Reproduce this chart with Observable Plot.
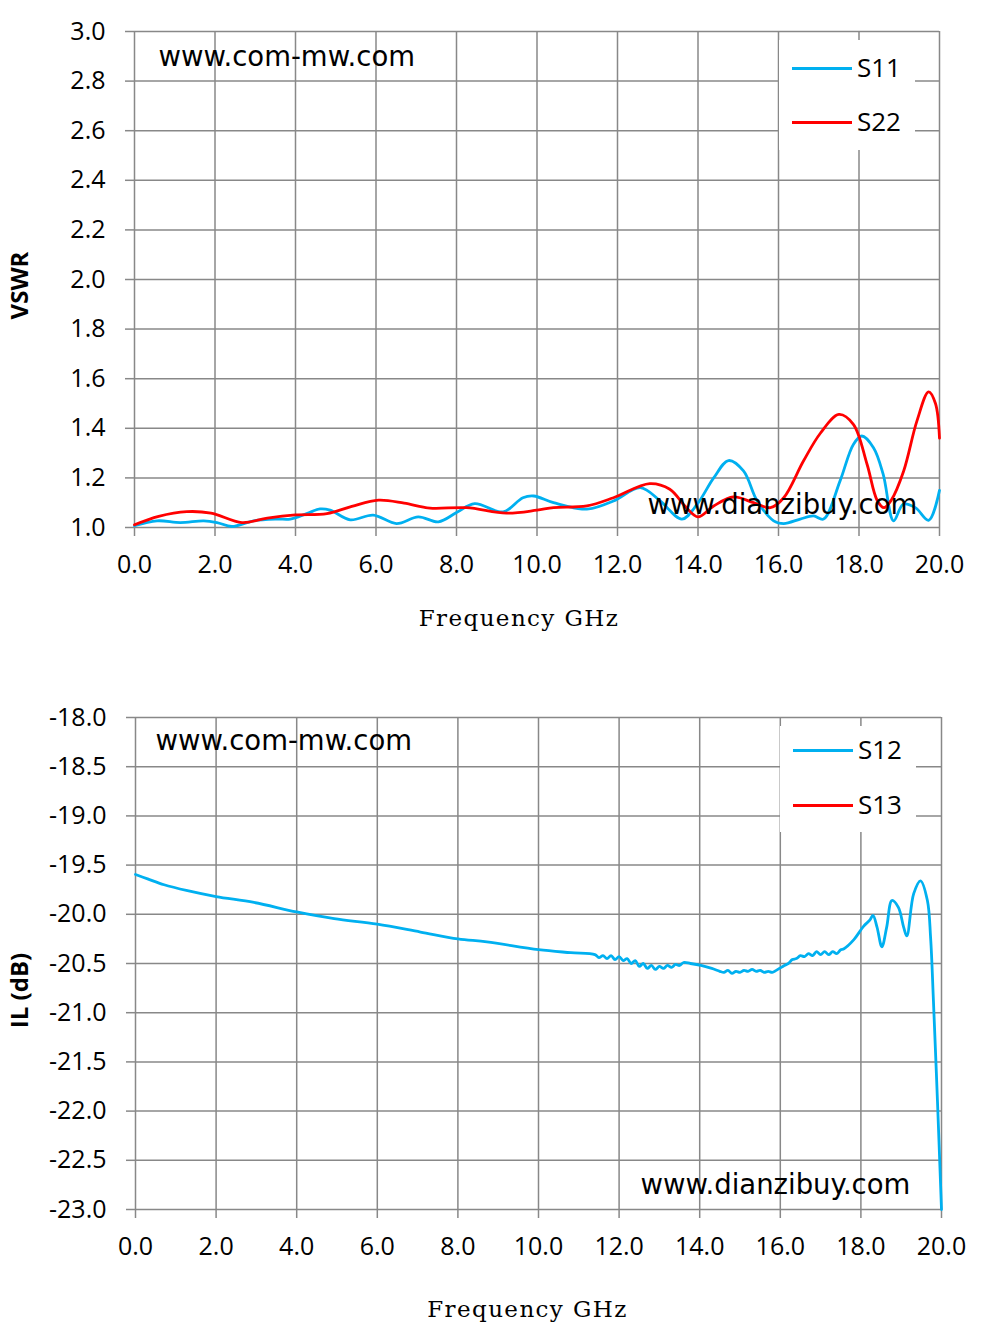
<!DOCTYPE html>
<html>
<head>
<meta charset="utf-8">
<script src="https://cdn.jsdelivr.net/npm/d3@7"></script>
<script src="https://cdn.jsdelivr.net/npm/@observablehq/plot@0.6"></script>
<style>
  html, body { margin: 0; padding: 0; background: #fff; }
  #wrap { position: relative; width: 981px; height: 1335px; overflow: hidden; }
  .panel { position: absolute; left: 0; }
  .legend { position: absolute; background: #fff; font-family: "Open Sans", sans-serif; font-size: 26px; color: #000; }
  .legend .sw { position: absolute; height: 3px; }
  .legend .lb { position: absolute; line-height: 30px; }
</style>
</head>
<body>
<div id="wrap"></div>
<script>
// ---------- data ----------
const xTicks = [0, 2, 4, 6, 8, 10, 12, 14, 16, 18, 20];
const vswrTicks = [1.0, 1.2, 1.4, 1.6, 1.8, 2.0, 2.2, 2.4, 2.6, 2.8, 3.0];
const ilTicks = [-23.0, -22.5, -22.0, -21.5, -21.0, -20.5, -20.0, -19.5, -19.0, -18.5, -18.0];

const s11Freq = [0, 0.56, 1.14, 1.72, 2.05, 2.42, 2.96, 3.54, 3.87, 4.28, 4.61, 4.86, 5.36, 5.93, 6.51, 7.05, 7.55, 8.0, 8.45, 9.16, 9.65, 9.92, 10.41, 11.24, 11.9, 12.57, 13.06, 13.6, 13.98, 14.39, 14.76, 15.13, 15.47, 15.88, 16.13, 16.54, 16.87, 17.12, 17.53, 17.86, 18.07, 18.36, 18.6, 18.86, 19.1, 19.4, 19.73, 20.0];
const s11Vswr = [1.007, 1.027, 1.02, 1.027, 1.02, 1.004, 1.027, 1.034, 1.034, 1.056, 1.075, 1.07, 1.031, 1.05, 1.016, 1.043, 1.023, 1.06, 1.096, 1.063, 1.12, 1.127, 1.10, 1.074, 1.107, 1.161, 1.107, 1.034, 1.094, 1.2, 1.27, 1.228, 1.107, 1.027, 1.016, 1.034, 1.047, 1.034, 1.188, 1.335, 1.369, 1.322, 1.215, 1.027, 1.094, 1.08, 1.029, 1.15];

const s22Freq = [0, 0.6, 1.3, 1.9, 2.67, 3.3, 4.0, 4.78, 5.4, 6.06, 6.7, 7.34, 8.25, 9.24, 10.0, 10.41, 11.24, 11.9, 12.8, 13.3, 13.71, 14.0, 14.39, 14.88, 15.38, 15.8, 16.13, 16.62, 17.04, 17.5, 17.86, 18.2, 18.45, 18.62, 18.8, 19.11, 19.44, 19.73, 19.9, 20.0];
const s22Vswr = [1.011, 1.045, 1.064, 1.058, 1.02, 1.038, 1.051, 1.056, 1.085, 1.11, 1.098, 1.078, 1.08, 1.058, 1.07, 1.08, 1.087, 1.12, 1.177, 1.154, 1.08, 1.043, 1.087, 1.123, 1.10, 1.08, 1.12, 1.268, 1.38, 1.456, 1.416, 1.255, 1.11, 1.08, 1.11, 1.228, 1.43, 1.547, 1.5, 1.36];

const s12Freq = [0, 0.3, 0.71, 1.29, 2.0, 2.94, 4.0, 4.93, 6.0, 7.07, 8.0, 8.72, 10.0, 10.8,
  11.4, 11.5, 11.6, 11.7, 11.8, 11.9, 12.0, 12.1, 12.2, 12.3, 12.4, 12.5, 12.6, 12.7, 12.8, 12.9, 13.0, 13.1, 13.2, 13.3, 13.4, 13.5, 13.6, 13.77, 14.03, 14.3, 14.5,
  14.6, 14.7, 14.8, 14.9, 15.0, 15.1, 15.2, 15.3, 15.4, 15.5, 15.6, 15.7, 15.8, 15.9, 16.1,
  16.2, 16.3, 16.4, 16.5, 16.6, 16.7, 16.8, 16.9, 17.0, 17.1, 17.2, 17.3, 17.4, 17.5, 17.58, 17.82, 18.07, 18.22, 18.3, 18.4, 18.52, 18.64, 18.77, 18.93, 19.06, 19.14, 19.31, 19.48, 19.65, 19.73, 19.8, 19.9, 20.0];
const s12Il = [-19.595, -19.64, -19.70, -19.76, -19.82, -19.88, -19.976, -20.044, -20.10, -20.18, -20.25, -20.28, -20.36, -20.39,
  -20.41, -20.44, -20.42, -20.45, -20.42, -20.46, -20.43, -20.47, -20.45, -20.50, -20.47, -20.53, -20.50, -20.55, -20.52, -20.56, -20.53, -20.55, -20.52, -20.54, -20.51, -20.52, -20.49, -20.50, -20.52, -20.55, -20.58,
  -20.59, -20.57, -20.60, -20.58, -20.59, -20.57, -20.58, -20.56, -20.58, -20.57, -20.59, -20.58, -20.59, -20.57, -20.52,
  -20.50, -20.46, -20.45, -20.42, -20.43, -20.40, -20.42, -20.38, -20.41, -20.38, -20.41, -20.38, -20.40, -20.36, -20.35, -20.26, -20.12, -20.06, -20.01, -20.13, -20.33, -20.13, -19.86, -19.93, -20.13, -20.22, -19.79, -19.66, -19.86, -20.24, -20.88, -21.9, -23.0];

const topSeries = ["S11", "S22"];
const bottomSeries = ["S12", "S13"];
const seriesColors = ["#00b0f0", "#ff0000"];

// ---------- helpers ----------
const gridColor = "#888888";
const tickFont = "'Open Sans', sans-serif";
const wmFont = "'DejaVu Sans', sans-serif";
const xLabelFont = "'DejaVu Serif', serif";
const fmt = d => d.toFixed(1);
const wrapEl = document.getElementById("wrap");

function commonMarks(yTicks) {
  return [
    Plot.gridX(xTicks, {stroke: gridColor, strokeOpacity: 1, strokeWidth: 1.5}),
    Plot.gridY(yTicks, {stroke: gridColor, strokeOpacity: 1, strokeWidth: 1.5}),
    Plot.axisX(xTicks, {tickFormat: fmt, tickSize: 9, tickPadding: 19, stroke: gridColor, strokeWidth: 1.5, fill: "#000", label: null, fontSize: 25}),
    Plot.axisY(yTicks, {tickFormat: fmt, tickSize: 9, tickPadding: 20, stroke: gridColor, strokeWidth: 1.5, fill: "#000", label: null, fontSize: 25})
  ];
}

function spaceLabel(svg) {
  d3.select(svg).selectAll("text")
    .filter(function () { return this.textContent === "Frequency GHz"; })
    .style("letter-spacing", "1.4px");
}

// ---------- top chart ----------
const s11 = s11Freq.map((f, i) => ({f, v: s11Vswr[i]}));
const s22 = s22Freq.map((f, i) => ({f, v: s22Vswr[i]}));

const topChart = Plot.plot({
  width: 981, height: 650,
  marginTop: 31, marginBottom: 123, marginLeft: 134, marginRight: 42,
  style: {fontFamily: tickFont, fontSize: "25px", color: "#000", background: "#fff", overflow: "visible"},
  x: {domain: [0, 20]},
  y: {domain: [1, 3]},
  marks: [
    ...commonMarks(vswrTicks),
    Plot.line(s11, {x: "f", y: "v", stroke: seriesColors[0], strokeWidth: 2.8, curve: "catmull-rom"}),
    Plot.line(s22, {x: "f", y: "v", stroke: seriesColors[1], strokeWidth: 2.8, curve: "catmull-rom"}),
    Plot.text(["www.com-mw.com"], {frameAnchor: "top-left", dx: 24, dy: 26, textAnchor: "start", lineAnchor: "middle", fontSize: 27.5, fontFamily: wmFont, fill: "#000"}),
    Plot.text(["www.dianzibuy.com"], {frameAnchor: "top-left", dx: 513, dy: 474, textAnchor: "start", lineAnchor: "middle", fontSize: 27.5, fontFamily: wmFont, fill: "#000"}),
    Plot.text(["Frequency GHz"], {frameAnchor: "bottom", dx: -18, dy: 91, textAnchor: "middle", lineAnchor: "middle", fontSize: 23, fontFamily: xLabelFont, fill: "#000"}),
    Plot.text(["VSWR"], {frameAnchor: "left", dx: -114, dy: 6, rotate: -90, textAnchor: "middle", lineAnchor: "middle", fontSize: 24, fontWeight: "bold", fill: "#000"})
  ]
});
spaceLabel(topChart);
topChart.classList.add("panel");
topChart.style.top = "0px";
wrapEl.appendChild(topChart);

// ---------- bottom chart ----------
const s12 = s12Freq.map((f, i) => ({f, v: s12Il[i]}));

const bottomChart = Plot.plot({
  width: 981, height: 685,
  marginTop: 67, marginBottom: 126, marginLeft: 135, marginRight: 40,
  style: {fontFamily: tickFont, fontSize: "25px", color: "#000", background: "#fff", overflow: "visible"},
  x: {domain: [0, 20]},
  y: {domain: [-23, -18]},
  marks: [
    ...commonMarks(ilTicks),
    Plot.line(s12, {x: "f", y: "v", stroke: seriesColors[0], strokeWidth: 2.8, curve: "catmull-rom"}),
    Plot.text(["www.com-mw.com"], {frameAnchor: "top-left", dx: 20, dy: 24, textAnchor: "start", lineAnchor: "middle", fontSize: 27.5, fontFamily: wmFont, fill: "#000"}),
    Plot.text(["www.dianzibuy.com"], {frameAnchor: "top-left", dx: 505, dy: 468, textAnchor: "start", lineAnchor: "middle", fontSize: 27.5, fontFamily: wmFont, fill: "#000"}),
    Plot.text(["Frequency GHz"], {frameAnchor: "bottom", dx: -11, dy: 100, textAnchor: "middle", lineAnchor: "middle", fontSize: 23, fontFamily: xLabelFont, fill: "#000"}),
    Plot.text(["IL (dB)"], {frameAnchor: "left", dx: -115, dy: 27, rotate: -90, textAnchor: "middle", lineAnchor: "middle", fontSize: 24, fontWeight: "bold", fill: "#000"})
  ]
});
spaceLabel(bottomChart);
bottomChart.classList.add("panel");
bottomChart.style.top = "650px";
wrapEl.appendChild(bottomChart);

// ---------- legends ----------
function legend(names, left, topPx, w, h, rowYs) {
  const box = document.createElement("div");
  box.className = "legend";
  Object.assign(box.style, {left: left + "px", top: topPx + "px", width: w + "px", height: h + "px"});
  names.forEach((n, i) => {
    const sw = document.createElement("div");
    sw.className = "sw";
    Object.assign(sw.style, {left: "13px", width: "60px", top: (rowYs[i] - 1.5) + "px", background: seriesColors[i]});
    const lb = document.createElement("div");
    lb.className = "lb";
    lb.textContent = n;
    Object.assign(lb.style, {left: "78px", top: (rowYs[i] - 16) + "px"});
    box.appendChild(sw);
    box.appendChild(lb);
  });
  wrapEl.appendChild(box);
}
legend(topSeries, 779, 40, 136, 110, [28, 82]);
legend(bottomSeries, 780, 726, 136, 106, [24, 79]);
</script>
</body>
</html>
